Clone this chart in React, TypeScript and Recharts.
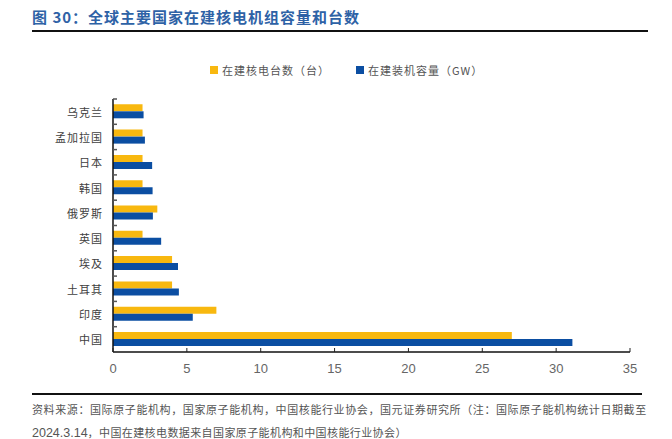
import React from 'react';
import { BarChart, Bar, XAxis, YAxis, Legend } from 'recharts';

const countries = ['乌克兰', '孟加拉国', '日本', '韩国', '俄罗斯', '英国', '埃及', '土耳其', '印度', '中国'];
const unitCounts = [2, 2, 2, 2, 3, 2, 4, 4, 7, 27];
const capacityGW = [2.07, 2.16, 2.65, 2.68, 2.7, 3.26, 4.4, 4.46, 5.4, 31.1];
const xTicks = [0, 5, 10, 15, 20, 25, 30, 35];

const data = countries.map((name, i) => ({
  name,
  units: unitCounts[i],
  capacity: capacityGW[i],
}));

const CJK = '"Noto Sans CJK SC", "Noto Sans", sans-serif';
const LATIN = '"Liberation Sans", Arial, sans-serif';
const YELLOW = '#F8B80F';
const BLUE = '#0B4EA2';

const PLOT_TOP = 99;
const PLOT_BOTTOM = 352;
const BAND = (PLOT_BOTTOM - PLOT_TOP) / countries.length;

const YTick = (props: any) => {
  const { x, y, payload } = props;
  const axisX = x + 10;
  const by = y - BAND / 2;
  return (
    <g>
      <line x1={axisX} x2={axisX + 4} y1={by} y2={by} stroke="#555" strokeWidth={1.5} />
      <text x={x} y={y} textAnchor="end" dominantBaseline="central" fontSize={11} letterSpacing={1} fill="#404040" fontFamily={CJK}>
        {payload.value}
      </text>
    </g>
  );
};

const XTick = (props: any) => {
  const { x, y, payload } = props;
  const axisY = y - 10;
  return (
    <g>
      <line x1={x} x2={x} y1={axisY} y2={axisY - 4} stroke="#222" strokeWidth={1} />
      <text x={x} y={y + 11} textAnchor="middle" fontSize={13} fill="#666" fontFamily={LATIN}>
        {payload.value}
      </text>
    </g>
  );
};

const LegendContent = (props: any) => {
  const { payload } = props;
  return (
    <div style={{ display: 'flex', alignItems: 'center', height: 20, paddingLeft: 210 }}>
      {(payload || []).map((p: any, i: number) => (
        <div key={i} style={{ display: 'flex', alignItems: 'center', marginRight: 26 }}>
          <span style={{ display: 'inline-block', width: 8, height: 8, background: p.color, marginRight: 4 }} />
          <span style={{ fontSize: 11, letterSpacing: 1, color: '#555', fontFamily: CJK }}>{p.value}</span>
        </div>
      ))}
    </div>
  );
};

export default function App() {
  return (
    <div style={{ position: 'absolute', left: 0, top: 0, width: 672, height: 439, background: '#fff', overflow: 'hidden' }}>
      <div style={{ position: 'absolute', left: 32, top: 6, fontFamily: CJK, fontWeight: 700, fontSize: 15, letterSpacing: 1, color: '#2E62A6', whiteSpace: 'nowrap' }}>
        图 30：全球主要国家在建核电机组容量和台数
      </div>
      <div style={{ position: 'absolute', left: 32, top: 30, width: 616, height: 2, background: '#111' }} />

      <div style={{ position: 'absolute', left: 0, top: 0 }}>
        <BarChart
          width={672}
          height={439}
          data={data}
          layout="vertical"
          barGap={0}
          barCategoryGap="21%"
          margin={{ top: PLOT_TOP - 20, right: 42, bottom: 439 - PLOT_BOTTOM - 30, left: 0 }}
        >
          <XAxis
            type="number"
            domain={[0, 35]}
            ticks={xTicks}
            height={30}
            tickSize={0}
            tickMargin={10}
            tick={<XTick />}
            axisLine={{ stroke: '#111', strokeWidth: 1.5 }}
            tickLine={false}
          />
          <YAxis
            type="category"
            dataKey="name"
            width={113}
            tickSize={0}
            tickMargin={10}
            tick={<YTick />}
            axisLine={{ stroke: '#111', strokeWidth: 1.5 }}
            tickLine={false}
            interval={0}
          />
          <Legend verticalAlign="top" content={<LegendContent />} wrapperStyle={{ top: 60, left: 0, width: 672 }} />
          <Bar dataKey="units" name="在建核电台数（台）" fill={YELLOW} isAnimationActive={false} />
          <Bar dataKey="capacity" name="在建装机容量（GW）" fill={BLUE} isAnimationActive={false} />
        </BarChart>
      </div>

      <div style={{ position: 'absolute', left: 32, top: 393, width: 610, height: 2, background: '#111' }} />
      <div style={{ position: 'absolute', left: 32, top: 401, fontFamily: CJK, fontSize: 11, letterSpacing: 0.6, color: '#555', whiteSpace: 'nowrap' }}>
        资料来源：国际原子能机构，国家原子能机构，中国核能行业协会，国元证券研究所（注：国际原子能机构统计日期截至
      </div>
      <div style={{ position: 'absolute', left: 32, top: 424, fontFamily: CJK, fontSize: 11, letterSpacing: 0.4, color: '#555', whiteSpace: 'nowrap' }}>
        <span style={{ fontFamily: LATIN, fontSize: 12.5, letterSpacing: 0 }}>2024.3.14</span>，中国在建核电数据来自国家原子能机构和中国核能行业协会）
      </div>
    </div>
  );
}
